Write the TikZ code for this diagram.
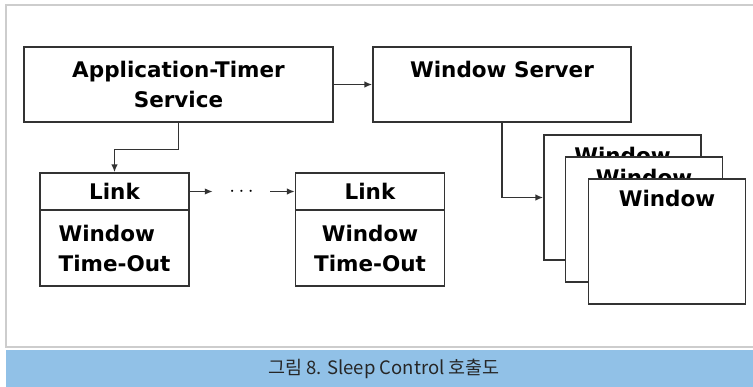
\documentclass[tikz,border=0pt]{standalone}
\usepackage{fontspec}
\setmainfont{DejaVu Sans}
\newfontfamily\krfont{Noto Sans CJK KR}
\usetikzlibrary{arrows.meta,positioning}
\definecolor{capblue}{HTML}{91C1E7}
\definecolor{framegray}{HTML}{CDCDCD}
\tikzset{
  box/.style={draw=black!80, line width=1.3pt, rectangle, inner sep=0pt, fill=white,
    font=\fontsize{21.5}{30}\selectfont\bfseries},
  winbox/.style={box, minimum width=157pt, minimum height=125pt, text height=28pt, text depth=97pt},
  conn/.style={line width=1.6pt, draw=black!80, -{Latex[length=8pt,width=6.5pt]}},
}
\begin{document}
\begin{tikzpicture}[x=1pt,y=-1pt]
  \useasboundingbox (0,0) rectangle (753,387);
  % frame and caption band
  \draw[framegray, line width=2pt] (6,5) rectangle (760,347);
  \fill[capblue] (6,350) rectangle (753,387);
  \node[font=\krfont\fontsize{18.5}{22}\selectfont, text=black!85] (caption) at (384,369) {그림 8. Sleep Control 호출도};

  \node[box, minimum width=309pt, minimum height=75pt, align=center] (app) at (178.5,84.5) {Application-Timer\\Service};
  \node[box, minimum width=258pt, minimum height=75pt, text height=27pt, text depth=40pt] (ws) at (502,84.5) {Window Server};

  \node[box, minimum width=149pt, minimum height=37pt] (link1) at (114.5,191.5) {Link};
  \node[box, minimum width=149pt, minimum height=76pt, align=left, below=-1.3pt of link1] (wto1) {Window\\Time-Out};
  \node[inner sep=0pt, minimum width=57pt, font=\fontsize{20}{24}\selectfont\bfseries] (dots) at (241.5,191.5) {$\cdots$};
  \node[box, minimum width=149pt, minimum height=37pt] (link2) at (370,191.5) {Link};
  \node[box, minimum width=149pt, minimum height=76pt, align=center, below=-1.3pt of link2] (wto2) {Window\\Time-Out};

  \node[winbox, text height=29pt, text depth=96pt] (win1) at (622.5,197.5) {Window};
  \node[winbox, text height=29pt, text depth=96pt] (win2) at (644,219.5) {Window};
  \node[winbox] (win3) at (667,241.5) {Window};

  \draw[conn] (app) -- (ws);
  \draw[conn] (app.south) -- ++(0,27) -| (link1.north);
  \draw[conn] (link1) -- (dots);
  \draw[conn] (dots) -- (link2);
  \draw[conn] (ws.south) |- (win1.west);
\end{tikzpicture}
\end{document}
